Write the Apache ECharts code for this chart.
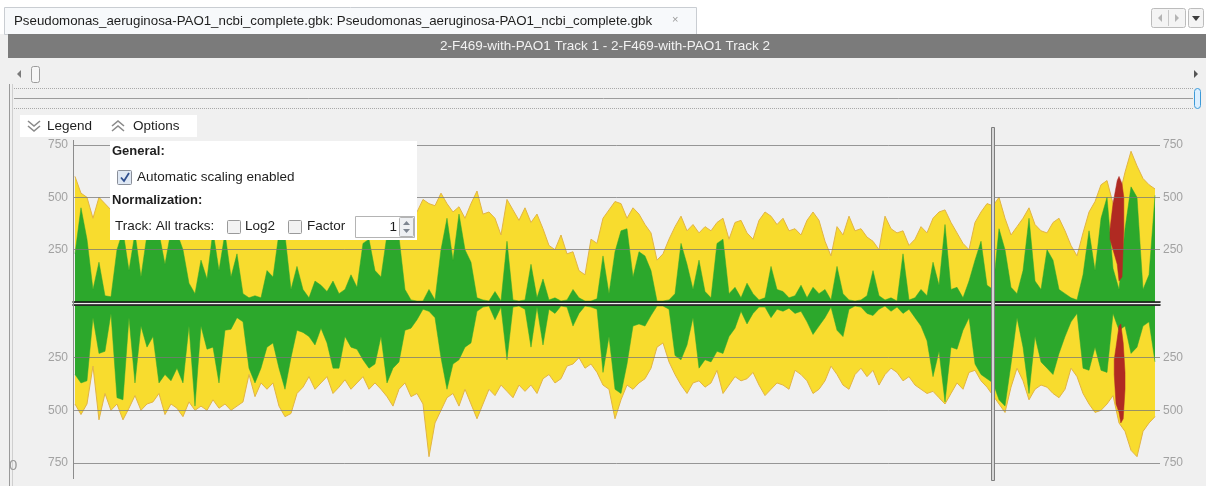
<!DOCTYPE html>
<html>
<head>
<meta charset="utf-8">
<title>2-F469-with-PAO1 coverage</title>
<script src="https://cdn.jsdelivr.net/npm/echarts@6/dist/echarts.min.js"></script>
<style>
  html, body { margin: 0; padding: 0; background: #f0f0f0; }
  #chart { width: 1206px; height: 486px; }
</style>
</head>
<body>
<div id="chart"></div>
<script>
// tick labels shown on both strands
const tickValues = [250, 500, 750];

// coverage above the centre line (forward), one sample every 6 px
const yellowFwd = [
  600, 520, 500, 400, 500, 470, 440, 480, 420, 500, 450, 400, 470, 430, 490, 450, 420, 480, 440, 400, 470, 430, 460, 420, 480, 440, 400, 460, 430, 380,
  420, 380, 450, 400, 470, 430, 390, 450, 410, 360, 330, 350, 320, 340, 330, 360, 380, 340, 420, 450, 400, 430, 470, 450, 480, 420, 450, 430, 490, 470,
  460, 520, 470, 430, 455, 400, 470, 530, 420, 430, 400, 320, 490, 440, 390, 450, 380, 420, 350, 270, 250, 320, 230, 240, 150, 130, 300, 280, 400, 440,
  480, 470, 400, 450, 420, 370, 330, 200, 230, 300, 360, 410, 340, 370, 330, 360, 340, 380, 400, 300, 380, 390, 330, 300, 390, 430, 410, 370, 400, 340,
  350, 320, 390, 430, 390, 290, 220, 360, 320, 410, 340, 350, 310, 290, 250, 410, 350, 330, 340, 270, 300, 360, 330, 400, 430, 440, 380, 330, 280, 250,
  380, 430, 470, 460, 500, 400, 320, 360, 400, 450, 370, 340, 330, 380, 400, 340, 270, 220, 330, 430, 480, 560, 580, 470, 500, 620, 720, 650, 590, 560, 540
];
const greenFwd = [
  230, 450, 300, 60, 190, 30, 25, 250, 340, 150, 330, 120, 320, 340, 330, 180, 340, 330, 250, 90, 40, 200, 110, 340, 150, 330, 120, 230, 40, 20,
  30, 20, 150, 120, 330, 320, 60, 170, 60, 20, 100, 80, 50, 100, 40, 60, 130, 70, 280, 300, 150, 120, 320, 300, 310, 60, 10, 5, 5, 60,
  10, 250, 400, 200, 420, 250, 190, 20, 10, 5, 50, 5, 290, 10, 5, 10, 180, 20, 110, 10, 20, 5, 10, 60, 20, 5, 5, 15, 220, 40,
  240, 340, 350, 120, 240, 220, 150, 5, 5, 10, 40, 280, 180, 60, 200, 50, 20, 280, 300, 40, 70, 20, 90, 40, 10, 20, 170, 60, 50, 20,
  30, 80, 20, 70, 40, 60, 10, 170, 40, 10, 5, 10, 30, 150, 30, 10, 20, 5, 230, 10, 20, 60, 30, 190, 80, 370, 60, 70, 20, 100,
  200, 290, 80, 60, 350, 250, 70, 40, 150, 400, 100, 60, 250, 200, 60, 40, 20, 10, 130, 340, 150, 400, 500, 160, 60, 350, 550, 500, 60, 130, 510
];

// coverage below the centre line (reverse)
const yellowRev = [
  470, 520, 470, 290, 545, 420, 500, 470, 545, 490, 430, 500, 470, 460, 420, 520, 470, 490, 530, 460, 500, 480, 500, 450, 490, 470, 500, 480, 460, 330,
  435, 370, 400, 370, 480, 530, 515, 420, 390, 340, 400, 370, 340, 420, 390, 355, 400, 370, 340, 400, 370, 400, 435, 480, 400, 370, 435, 420, 470, 720,
  560, 500, 440, 420, 480, 400, 470, 540, 470, 400, 430, 380, 410, 440, 380, 410, 380, 420, 350, 330, 370, 350, 290, 280, 250, 300, 280, 320, 380, 400,
  540, 450, 380, 400, 370, 350, 300, 200, 180, 270, 330, 380, 420, 370, 360, 390, 370, 310, 420, 380, 340, 360, 350, 320, 380, 430, 400, 370, 380, 400,
  310, 330, 360, 420, 400, 360, 290, 330, 380, 400, 330, 300, 340, 310, 380, 330, 300, 320, 360, 340, 380, 400, 420, 410, 440, 470, 420, 370, 400, 320,
  310, 360, 390, 430, 470, 510, 390, 300, 360, 450, 400, 380, 390, 420, 440, 400, 300, 340, 420, 470, 510, 500, 470, 430, 560, 600, 690, 720, 600, 560, 530
];
const greenRev = [
  330, 370, 360, 60, 230, 220, 40, 440, 450, 60, 370, 100, 200, 150, 370, 330, 360, 300, 370, 100, 480, 100, 210, 200, 370, 120, 115, 60, 80, 300,
  370, 300, 200, 180, 300, 400, 250, 120, 130, 150, 190, 110, 180, 300, 300, 150, 200, 210, 260, 300, 280, 150, 370, 300, 270, 120, 110, 70, 20, 30,
  60, 250, 400, 280, 260, 200, 180, 30, 10, 5, 70, 10, 260, 10, 5, 20, 200, 10, 190, 20, 40, 5, 10, 100, 40, 5, 10, 20, 320, 150,
  400, 420, 280, 100, 90, 100, 50, 5, 5, 20, 240, 260, 190, 60, 300, 260, 270, 220, 230, 150, 110, 30, 90, 40, 10, 10, 60, 20, 30, 15,
  40, 30, 80, 140, 100, 60, 10, 120, 150, 20, 5, 10, 40, 50, 20, 5, 30, 10, 40, 20, 60, 100, 170, 340, 220, 460, 200, 210, 120, 60,
  280, 330, 350, 370, 450, 480, 280, 60, 200, 420, 150, 270, 300, 330, 230, 150, 80, 40, 300, 310, 200, 310, 320, 40, 120, 100, 230, 200, 100, 80, 270
];

// the red track only shows near the right end, as a band
const redFwdPos = [172.5, 173.0, 173.7, 174.0, 174.5, 174.8];
const redFwdLow = [300, 250, 180, 100, 120, 340];
const redFwdHigh = [350, 470, 580, 600, 565, 500];
const redRevPos = [173.2, 173.5, 174.0, 174.3, 174.7, 175.0];
const redRevInner = [260, 200, 100, 90, 180, 320];
const redRevOuter = [330, 470, 510, 560, 540, 400];

const FONT = '"Liberation Sans", Arial, sans-serif';
const UI = '13.5px ' + FONT;
const YELLOW = '#f8dc2e';
const YELLOW_EDGE = '#e2b444';
const GREEN = '#2ca82c';
const RED = '#b02a22';

const chart = echarts.init(document.getElementById('chart'));

const toPairs = arr => arr.map((v, i) => [i, v]);

function areaSeries(name, data, axis, color, edge, z) {
  return {
    name: name,
    type: 'line',
    xAxisIndex: axis,
    yAxisIndex: axis * 2,
    data: data,
    symbol: 'none',
    smooth: false,
    z: z,
    lineStyle: { color: edge, width: edge === color ? 0.5 : 1 },
    areaStyle: { color: color, opacity: 1 },
    silent: true
  };
}

// band between two profiles, drawn as one polygon through the axes
function bandSeries(name, pos, low, high, axis) {
  return {
    name: name,
    type: 'custom',
    xAxisIndex: axis,
    yAxisIndex: axis * 2,
    z: 3,
    silent: true,
    data: [[pos[0], low[0]]],
    renderItem: (params, api) => {
      const outer = pos.map((p, k) => api.coord([p, high[k]]));
      const inner = pos.map((p, k) => api.coord([p, low[k]])).reverse();
      return {
        type: 'polygon',
        shape: { points: outer.concat(inner) },
        style: { fill: RED, stroke: RED, lineWidth: 0.5 }
      };
    }
  };
}

const labelStyle = {
  color: '#a2a2a2',
  fontSize: 12,
  fontFamily: FONT,
  formatter: v => (tickValues.indexOf(v) >= 0 ? String(v) : '')
};
const gridLine = { show: true, lineStyle: { color: 'rgba(120,120,120,0.75)', width: 1 } };

function yAxes(gridIndex, inverse) {
  return [
    {
      type: 'value', gridIndex: gridIndex, min: 0, max: 750, interval: 250, inverse: inverse,
      position: 'left', z: 4,
      axisLine: { show: false }, axisTick: { show: false },
      axisLabel: Object.assign({ margin: 5 }, labelStyle),
      splitLine: gridLine
    },
    {
      type: 'value', gridIndex: gridIndex, min: 0, max: 750, interval: 250, inverse: inverse,
      position: 'right', z: 4,
      axisLine: { show: false },
      axisTick: { show: false },
      axisLabel: Object.assign({ margin: 3 }, labelStyle),
      splitLine: { show: false }
    }
  ];
}

function xAxis(gridIndex, position) {
  return {
    type: 'value', gridIndex: gridIndex, min: -0.33, max: 180.83, position: position, z: 5,
    axisLine: { show: true, onZero: false, lineStyle: { color: '#111', width: 1.6 } },
    axisTick: { show: false }, axisLabel: { show: false }, splitLine: { show: false }
  };
}

const txt = (text, x, y, opts) => ({
  type: 'text', z: 100,
  style: Object.assign({ text: text, x: x, y: y, fill: '#1e1e1e', font: UI, verticalAlign: 'middle' }, opts || {})
});
const box = (x, y, w, h, fill, stroke, r) => ({
  type: 'rect', z: 100, shape: { x: x, y: y, width: w, height: h, r: r || 0 },
  style: { fill: fill, stroke: stroke || null, lineWidth: 1 }
});
const line = (x1, y1, x2, y2, stroke, width, dash) => ({
  type: 'line', z: 100, shape: { x1: x1, y1: y1, x2: x2, y2: y2 },
  style: { stroke: stroke, lineWidth: width || 1, lineDash: dash || null }
});
const poly = (points, stroke, width) => ({
  type: 'polyline', z: 101, shape: { points: points },
  style: { stroke: stroke, lineWidth: width || 1.4, fill: null }
});
const tri = (points, fill) => ({ type: 'polygon', z: 101, shape: { points: points }, style: { fill: fill } });

const graphics = [
  // editor tab strip
  box(0, 0, 1206, 34, '#ffffff'),
  box(4.5, 7.5, 692, 27, '#f7f9fb', '#c9cdd2'),
  txt('Pseudomonas_aeruginosa-PAO1_ncbi_complete.gbk: Pseudomonas_aeruginosa-PAO1_ncbi_complete.gbk', 14, 21, { font: '13.3px ' + FONT }),
  txt('×', 672, 20, { fill: '#9a9a9a', font: '11px ' + FONT }),
  box(1151.5, 8.5, 34, 19, '#f4f4f4', '#bcbcbc', 2),
  line(1168.5, 10, 1168.5, 26, '#c8c8c8'),
  tri([[1162, 14], [1162, 22], [1158, 18]], '#b4b4b4'),
  tri([[1175, 14], [1175, 22], [1179, 18]], '#b4b4b4'),
  box(1188.5, 8.5, 15, 19, '#f4f4f4', '#bcbcbc', 2),
  tri([[1192, 16], [1200, 16], [1196, 21]], '#3c3c3c'),
  // track title bar
  box(8, 34, 1198, 24, '#7b7b7b'),
  txt('2-F469-with-PAO1 Track 1 - 2-F469-with-PAO1 Track 2', 605, 46, { fill: '#f2f2f2', align: 'center' }),
  // horizontal scroller
  tri([[21, 70], [21, 78], [17, 74]], '#7a7a7a'),
  box(31.5, 66.5, 8, 16, '#f6f6f6', '#9c9c9c', 2),
  tri([[1194, 70], [1194, 78], [1198, 74]], '#555555'),
  line(12, 88.5, 1193, 88.5, '#a8a8a8', 1, [1, 1]),
  line(14, 98.5, 1193, 98.5, '#9c9c9c', 1),
  line(12, 108.5, 1193, 108.5, '#a8a8a8', 1, [1, 1]),
  box(1194.5, 88.5, 6, 20, '#dcefff', '#3c9ad8', 3),
  // panel border at the left
  line(9.5, 84, 9.5, 486, '#9a9a9a'),
  line(12.5, 84, 12.5, 486, '#cfcfcf'),
  // left axis line and the cursor
  line(73.5, 140, 73.5, 479, '#8c8c8c'),
  box(991.5, 127.5, 3, 353, '#d6d6d6', '#7e7e7e'),
  txt('0', 9, 466, { fill: '#9a9a9a', font: '15px ' + FONT }),
  // legend / options bar
  box(20, 115, 177, 22, '#ffffff'),
  poly([[28, 121], [34, 126], [40, 121]], '#8a8a8a', 1.6),
  poly([[28, 126], [34, 131], [40, 126]], '#8a8a8a', 1.6),
  txt('Legend', 47, 126),
  poly([[112, 126], [118, 121], [124, 126]], '#8a8a8a', 1.6),
  poly([[112, 131], [118, 126], [124, 131]], '#8a8a8a', 1.6),
  txt('Options', 133, 126),
  // options panel
  box(110, 141, 307, 99, '#ffffff'),
  txt('General:', 112, 151, { font: 'bold 13px ' + FONT }),
  box(117.5, 170.5, 14, 14, '#dfe8f4', '#8a8f99', 1),
  poly([[121, 177.5], [124, 181], [129, 173]], '#2f4f8f', 1.8),
  txt('Automatic scaling enabled', 137, 177),
  txt('Normalization:', 112, 200, { font: 'bold 13px ' + FONT }),
  txt('Track: All tracks:', 115, 226),
  box(227.5, 220.5, 13, 13, '#f2f2f2', '#9a9a9a', 1),
  txt('Log2', 245, 226),
  box(288.5, 220.5, 13, 13, '#f2f2f2', '#9a9a9a', 1),
  txt('Factor', 307, 226),
  box(355.5, 216.5, 59, 21, '#ffffff', '#b4b4b4'),
  txt('1', 397, 227, { align: 'right' }),
  box(399.5, 217.5, 14, 19, '#eef0f3', '#b4b4b4', 1),
  tri([[403, 225], [410, 225], [406.5, 221]], '#7d8590'),
  tri([[403, 229], [410, 229], [406.5, 233]], '#7d8590')
];

const option = {
  backgroundColor: '#f0f0f0',
  animation: false,
  grid: [
    { left: 73, top: 145, width: 1087, height: 157 },
    { left: 73, top: 305, width: 1087, height: 158 }
  ],
  xAxis: [xAxis(0, 'bottom'), xAxis(1, 'top')],
  yAxis: yAxes(0, false).concat(yAxes(1, true)),
  series: [
    areaSeries('Track 1 forward', toPairs(yellowFwd), 0, YELLOW, YELLOW_EDGE, 1),
    areaSeries('Track 2 forward', toPairs(greenFwd), 0, GREEN, GREEN, 2),
    areaSeries('Track 1 reverse', toPairs(yellowRev), 1, YELLOW, YELLOW_EDGE, 1),
    areaSeries('Track 2 reverse', toPairs(greenRev), 1, GREEN, GREEN, 2),
    bandSeries('red forward', redFwdPos, redFwdLow, redFwdHigh, 0),
    bandSeries('red reverse', redRevPos, redRevInner, redRevOuter, 1)
  ],
  graphic: graphics
};

chart.setOption(option);
</script>
</body>
</html>
